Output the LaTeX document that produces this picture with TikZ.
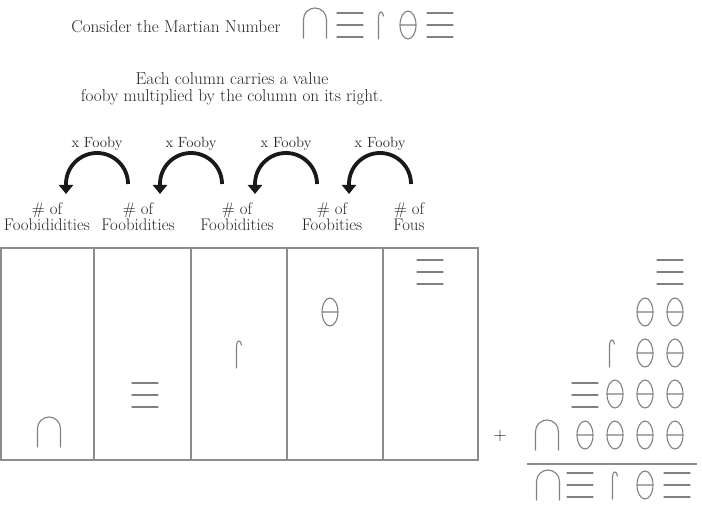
\documentclass[tikz,border=0pt]{standalone}
\usetikzlibrary{arrows.meta}

\tikzset{
  mglyph/.style={draw=black!50, line width=1.1pt, line cap=round},
  marsarch/.pic={\draw[mglyph] (-11.5,-15) -- (-11.5,3.5) arc[start angle=180,end angle=0,radius=11.5] -- (11.5,-15);},
  marsbars/.pic={\draw[mglyph] (-13,12) -- (13,12) (-13,0) -- (13,0) (-13,-12) -- (13,-12);},
  marshook/.pic={\draw[mglyph] (-1.5,-14) -- (-1.5,8) .. controls (-1.5,14) and (2.5,15) .. (3.5,9);},
  marstheta/.pic={\draw[mglyph] (0,0) ellipse[x radius=8,y radius=14] (-8,0) -- (8,0);},
  txt/.style={text=black!85, inner sep=0pt},
  fooarrow/.style={draw=black!90, line width=3.8pt, -{Triangle[width=14pt,length=9pt]}}
}

\begin{document}
\begin{tikzpicture}[x=1pt, y=1pt]
    \useasboundingbox (0,0) rectangle (702,-508);
    % Title and the number
    \node[txt, font=\fontsize{17.2}{17}\selectfont] (title) at (176,-27) {Consider the Martian Number};
    \pic at (315,-23) {marsarch};
    \pic at (350,-25) {marsbars};
    \pic at (380,-25) {marshook};
    \pic at (408,-25) {marstheta};
    \pic at (440,-25) {marsbars};
    % Explanation
    \node[txt, align=center, font=\fontsize{17.2}{16.5}\selectfont] (rule) at (232,-89)
      {Each column carries a value\\ fooby multiplied by the column on its right.};
    % Curved arrows, x Fooby
    \foreach \c [count=\i] in {97,191,286,380} {
      \node[txt, font=\fontsize{14.8}{14}\selectfont] (fooby\i) at (\c,-144) {x Fooby};
      \coordinate (arr\i) at (\c+31,-184);
      \draw[fooarrow] (arr\i) arc[start angle=0,end angle=180,radius=31] -- ++(0,-10);
    }
    % Column names
    \foreach \c/\name [count=\i] in {47/Foobididities, 138/Foobidities, 237/Foobidities, 332/Foobities, 409/Fous} {
      \node[txt, align=center, font=\fontsize{16.8}{14.5}\selectfont] (colname\i) at (\c,-217) {\# of\\ \name};
    }
    % Place value table
    \draw[draw=black!45, line width=1.2pt] (1,-248) rectangle (478,-460);
    \foreach \x in {94,191,287,383}
      \draw[draw=black!45, line width=1.2pt] (\x,-248) -- (\x,-460);
    \pic at (49,-432) {marsarch};
    \pic at (145,-395) {marsbars};
    \pic at (238,-354) {marshook};
    \pic at (330,-312) {marstheta};
    \pic at (430,-272) {marsbars};
    % The sum
    \pic at (670,-272) {marsbars};
    \foreach \x in {645,675} \pic at (\x,-312) {marstheta};
    \pic at (611,-353) {marshook};
    \foreach \x in {645,675} \pic at (\x,-353) {marstheta};
    \pic at (585,-395) {marsbars};
    \foreach \x in {615,645,675} \pic at (\x,-394) {marstheta};
    \node[txt, font=\fontsize{18}{18}\selectfont] (plus) at (500,-436) {+};
    \pic at (547,-435) {marsarch};
    \foreach \x in {585,615,645,675} \pic at (\x,-435) {marstheta};
    \draw[draw=black!45, line width=1.2pt] (527,-464) -- (697,-464);
    \pic at (548,-485) {marsarch};
    \pic at (580,-485) {marsbars};
    \pic at (614,-485) {marshook};
    \pic at (645,-485) {marstheta};
    \pic at (677,-485) {marsbars};
  \end{tikzpicture}
\end{document}
